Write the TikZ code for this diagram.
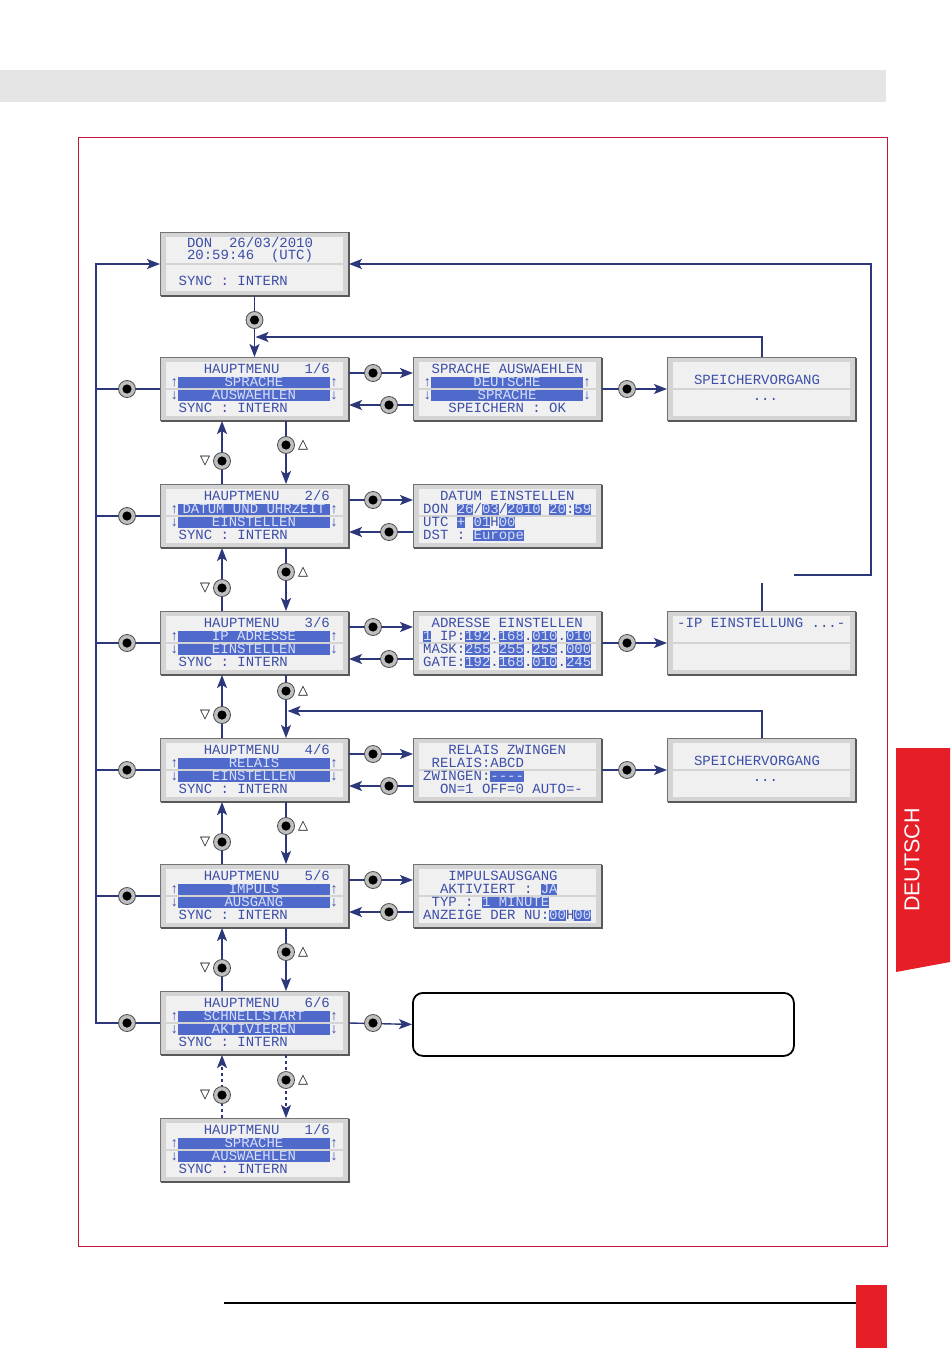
\documentclass[tikz,border=0pt]{standalone}
\usepackage{fontspec}
\setmainfont{Liberation Sans}
\newfontfamily\lcdfont{Liberation Mono}
\newfontfamily\symfont{DejaVu Sans}
\usetikzlibrary{arrows.meta,calc}
\definecolor{navy}{RGB}{44,56,122}
\definecolor{lcdblue}{RGB}{60,78,168}
\definecolor{hlblue}{RGB}{80,106,204}
\definecolor{hltext}{RGB}{214,222,248}
\definecolor{pagered}{RGB}{230,30,40}
\definecolor{framered}{RGB}{196,22,56}
\newcounter{tn}
\tikzset{
  lcdframe/.style={draw=black!55, line width=1pt, fill=black!17, minimum width=188pt, minimum height=63pt, inner sep=0pt},
  lcdtxt/.style={font=\lcdfont\fontsize{14}{14}\selectfont, text=lcdblue, inner sep=0pt},
  hltxt/.style={lcdtxt, text=hltext},
  conn/.style={draw=navy, line width=1.4pt},
  arr/.style={conn, -{Stealth[length=13pt,width=10pt,inset=3pt]}},
  darr/.style={arr, dash pattern=on 3pt off 3pt},
  btn/.style={circle, draw=black!70, line width=0.8pt, fill=black!25, minimum size=17pt, inner sep=0pt,
    path picture={\fill[black] (path picture bounding box.center) circle (4.6pt);}},
  tri/.style={font=\symfont\fontsize{13}{13}\selectfont, inner sep=0pt},
}
% LCD box: name, x, y (top-left)
\newcommand\lcd[3]{%
  \node[lcdframe, anchor=north west] (#1) at (#2,#3) {};
  \fill[black!6] ($(#1.north west)+(6,5)$) rectangle ($(#1.north east)+(-6,30.5)$);
  \fill[black!6] ($(#1.north west)+(6,32.5)$) rectangle ($(#1.south east)+(-6,-5)$);
  \draw[black!65, line width=1.4pt] ($(#1.south west)+(0.5,0)$) -- (#1.south east) -- ($(#1.north east)+(0,0.5)$);
}
% text: box, baseline offset, column, text
\newcommand\lt[4]{\stepcounter{tn}\node[lcdtxt, anchor=base west] (t\thetn) at ($(#1.north west)+({10+8.4*#3},{#2+0.3})$) {#4};}
\newcommand\lth[4]{\stepcounter{tn}\node[hltxt, anchor=base west] (t\thetn) at ($(#1.north west)+({10+8.4*#3},{#2+0.3})$) {#4};}
% highlight bar: box, row centre offset, column, number of columns
\newcommand\hl[4]{\fill[hlblue] ($(#1.north west)+({10+8.4*#3},{#2-5.5})$) rectangle ($(#1.north west)+({10+8.4*(#3+#4)},{#2+5.5})$);}
% centred highlighted text
\newcommand\hc[3]{\stepcounter{tn}\node[hltxt, anchor=base] (t\thetn) at ($(#1.north west)+(94,{#2+0.3})$) {#3};}
\newcommand\menu[5]{%
  \lcd{#1}{160}{#2}
  \lt{#1}{16.5}{4}{HAUPTMENU}
  \lt{#1}{16.5}{16}{#3/6}
  \hl{#1}{25}{1}{18}\hl{#1}{38}{1}{18}
  \lt{#1}{29.5}{0}{↑}\lt{#1}{29.5}{19}{↑}
  \lt{#1}{42.5}{0}{↓}\lt{#1}{42.5}{19}{↓}
  \hc{#1}{29.5}{#4}\hc{#1}{42.5}{#5}
  \lt{#1}{55.5}{1}{SYNC : INTERN}
}
\begin{document}
\begin{tikzpicture}[x=1pt,y=-1pt]
\useasboundingbox (0,0) rectangle (950,1348);
\fill[white] (0,0) rectangle (950,1348);
% page decoration
\fill[black!10] (0,70) rectangle (886,102);
\draw[framered, line width=0.9pt] (78,137) rectangle (887,1246);
\fill[pagered] (896,748) -- (950,748) -- (950,962) -- (896,972) -- cycle;
\node[rotate=90, text=white, font=\fontsize{21.5}{21.5}\selectfont, inner sep=0pt] (tab) at (912,860) {DEUTSCH};
\draw[black, line width=1.1pt] (224,1303) -- (856,1303);
\fill[pagered] (856,1285) rectangle (887,1348);

% ---- clock
\lcd{clock}{160}{232}
\lt{clock}{15.5}{2}{DON}\lt{clock}{15.5}{7}{26/03/2010}
\lt{clock}{27.5}{2}{20:59:46}\lt{clock}{27.5}{12}{(UTC)}
\lt{clock}{53.5}{1}{SYNC : INTERN}

% ---- menus
\menu{m1}{357}{1}{SPRACHE}{AUSWAEHLEN}
\menu{m2}{484}{2}{DATUM UND UHRZEIT}{EINSTELLEN}
\menu{m3}{611}{3}{IP ADRESSE}{EINSTELLEN}
\menu{m4}{738}{4}{RELAIS}{EINSTELLEN}
\menu{m5}{864}{5}{IMPULS}{AUSGANG}
\menu{m6}{991}{6}{SCHNELLSTART}{AKTIVIEREN}
\menu{m7}{1118}{1}{SPRACHE}{AUSWAEHLEN}

% ---- r1 Sprache
\lcd{r1}{413}{357}
\lt{r1}{16.5}{1}{SPRACHE AUSWAEHLEN}
\hl{r1}{25}{1}{18}\hl{r1}{38}{1}{18}
\lt{r1}{29.5}{0}{↑}\lt{r1}{29.5}{19}{↑}
\lt{r1}{42.5}{0}{↓}\lt{r1}{42.5}{19}{↓}
\hc{r1}{29.5}{DEUTSCHE}\hc{r1}{42.5}{SPRACHE}
\lt{r1}{55.5}{3}{SPEICHERN : OK}

% ---- r2 Datum
\lcd{r2}{413}{484}
\lt{r2}{16.5}{2}{DATUM EINSTELLEN}
\lt{r2}{29.5}{0}{DON}
\hl{r2}{25}{4}{2}\lth{r2}{29.5}{4}{26}\lt{r2}{29.5}{6}{/}
\hl{r2}{25}{7}{2}\lth{r2}{29.5}{7}{03}\lt{r2}{29.5}{9}{/}
\hl{r2}{25}{10}{4}\lth{r2}{29.5}{10}{2010}
\hl{r2}{25}{15}{2}\lth{r2}{29.5}{15}{20}\lt{r2}{29.5}{17}{:}
\hl{r2}{25}{18}{2}\lth{r2}{29.5}{18}{59}
\lt{r2}{42.5}{0}{UTC}
\hl{r2}{38}{4}{1}\lth{r2}{42.5}{4}{+}
\hl{r2}{38}{6}{2}\lth{r2}{42.5}{6}{01}\lt{r2}{42.5}{8}{H}
\hl{r2}{38}{9}{2}\lth{r2}{42.5}{9}{00}
\lt{r2}{55.5}{0}{DST}\lt{r2}{55.5}{4}{:}
\hl{r2}{51}{6}{6}\lth{r2}{55.5}{6}{Europe}

% ---- r3 Adresse
\lcd{r3}{413}{611}
\lt{r3}{16.5}{1}{ADRESSE EINSTELLEN}
\hl{r3}{25}{0}{1}\lth{r3}{29.5}{0}{1}\lt{r3}{29.5}{2}{IP:}
\hl{r3}{25}{5}{3}\lth{r3}{29.5}{5}{192}\lt{r3}{29.5}{8}{.}
\hl{r3}{25}{9}{3}\lth{r3}{29.5}{9}{168}\lt{r3}{29.5}{12}{.}
\hl{r3}{25}{13}{3}\lth{r3}{29.5}{13}{010}\lt{r3}{29.5}{16}{.}
\hl{r3}{25}{17}{3}\lth{r3}{29.5}{17}{010}
\lt{r3}{42.5}{0}{MASK:}
\hl{r3}{38}{5}{3}\lth{r3}{42.5}{5}{255}\lt{r3}{42.5}{8}{.}
\hl{r3}{38}{9}{3}\lth{r3}{42.5}{9}{255}\lt{r3}{42.5}{12}{.}
\hl{r3}{38}{13}{3}\lth{r3}{42.5}{13}{255}\lt{r3}{42.5}{16}{.}
\hl{r3}{38}{17}{3}\lth{r3}{42.5}{17}{000}
\lt{r3}{55.5}{0}{GATE:}
\hl{r3}{51}{5}{3}\lth{r3}{55.5}{5}{192}\lt{r3}{55.5}{8}{.}
\hl{r3}{51}{9}{3}\lth{r3}{55.5}{9}{168}\lt{r3}{55.5}{12}{.}
\hl{r3}{51}{13}{3}\lth{r3}{55.5}{13}{010}\lt{r3}{55.5}{16}{.}
\hl{r3}{51}{17}{3}\lth{r3}{55.5}{17}{245}

% ---- r4 Relais
\lcd{r4}{413}{738}
\lt{r4}{16.5}{3}{RELAIS ZWINGEN}
\lt{r4}{29.5}{1}{RELAIS:ABCD}
\lt{r4}{42.5}{0}{ZWINGEN:}
\hl{r4}{38}{8}{4}\lth{r4}{42.5}{8}{\mbox{-}\mbox{-}\mbox{-}\mbox{-}}
\lt{r4}{55.5}{2}{ON=1 OFF=0 AUTO=-}

% ---- r5 Impuls
\lcd{r5}{413}{864}
\lt{r5}{16.5}{3}{IMPULSAUSGANG}
\lt{r5}{29.5}{2}{AKTIVIERT :}
\hl{r5}{25}{14}{2}\lth{r5}{29.5}{14}{JA}
\lt{r5}{42.5}{1}{TYP :}
\hl{r5}{38}{7}{8}\lth{r5}{42.5}{7}{1 MINUTE}
\lt{r5}{55.5}{0}{ANZEIGE DER NU:}
\hl{r5}{51}{15}{2}\lth{r5}{55.5}{15}{00}\lt{r5}{55.5}{17}{H}
\hl{r5}{51}{18}{2}\lth{r5}{55.5}{18}{00}

% ---- far boxes
\lcd{f1}{667}{357}
\lt{f1}{27.5}{2}{SPEICHERVORGANG}\lt{f1}{43.5}{9}{...}
\lcd{f3}{667}{611}
\lt{f3}{16.5}{0}{-IP EINSTELLUNG ...-}
\lcd{f4}{667}{738}
\lt{f4}{27.5}{2}{SPEICHERVORGANG}\lt{f4}{43.5}{9}{...}

% ---- Schnellstart box
\node[draw=black, line width=1.8pt, rounded corners=10pt, minimum width=381pt, minimum height=63pt, inner sep=0pt, anchor=north west] (q) at (412,992) {};

% ---- column coordinates
\coordinate (bus) at (96,0);
\coordinate (xbl) at (127,0);
\coordinate (xup) at (222,0);
\coordinate (xdn) at (286,0);
\coordinate (xr1) at (373,0);
\coordinate (xr2) at (389,0);
\coordinate (xf) at (627,0);
\coordinate (xsp) at (762,0);
\coordinate (xret) at (871,0);
\coordinate (j1) at (255.5,337);
\coordinate (j2) at (287.5,711);
\coordinate (ipstub) at (762,583);
\coordinate (ret0) at (794,575);

% ---- connectors
\draw[arr] (m6.west) -- (m6.west -| bus) -- (clock.west -| bus) -- (clock.west);
\foreach \m in {m1,m2,m3,m4,m5}{\draw[conn] (\m.west) -- (\m.west -| bus);}
\draw[arr] (clock.south) -- (m1.north);
\draw[arr] (f1.north -| xsp) |- (j1);
\draw[arr] (f4.north -| xsp) |- (j2);
\draw[conn] (f3.north -| xsp) -- (ipstub);
\draw[arr] (ret0) -- (ret0 -| xret) -- (clock.east -| xret) -- (clock.east);

\foreach \a/\b in {m1/m2,m2/m3,m3/m4,m4/m5,m5/m6}{
  \draw[arr] (\b.north -| xup) -- (\a.south -| xup);
  \draw[arr] (\a.south -| xdn) -- (\b.north -| xdn);
}
\draw[darr] (m7.north -| xup) -- (m6.south -| xup);
\draw[darr] (m6.south -| xdn) -- (m7.north -| xdn);

\foreach \m/\r in {m1/r1,m2/r2,m3/r3,m4/r4,m5/r5}{
  \draw[arr] ($(\m.north east)+(0,16)$) -- ($(\r.north west)+(0,16)$);
  \draw[arr] ($(\r.north west)+(0,48)$) -- ($(\m.north east)+(0,48)$);
  \node[btn] (bu\m) at ($(\m.north east -| xr1)+(0,16)$) {};
  \node[btn] (bl\r) at ($(\r.north west -| xr2)+(0,48)$) {};
}
\foreach \r/\f in {r1/f1,r3/f3,r4/f4}{
  \draw[arr] (\r.east) -- (\f.west);
  \node[btn] (bf\r) at (\r.east -| xf) {};
}
\draw[arr] (m6.east) -- (q.west);
\node[btn] (bq) at (m6.east -| xr1) {};

% ---- buttons
\node[btn] (bc) at ($(clock.south)+(0,24)$) {};
\foreach \m in {m1,m2,m3,m4,m5,m6}{\node[btn] (bl\m) at (\m.west -| xbl) {};}
\foreach \a/\d in {m1/24,m2/24,m3/16,m4/24,m5/24,m6/25}{
  \node[btn] (bd\a) at ($(\a.south -| xdn)+(0,\d)$) {};
  \node[tri] (td\a) at ($(\a.south -| xdn)+(17,\d)$) {△};
  \node[btn] (bp\a) at ($(\a.south -| xup)+(0,40)$) {};
  \node[tri] (tp\a) at ($(\a.south -| xup)+(-17,40)$) {▽};
}
\end{tikzpicture}
\end{document}
